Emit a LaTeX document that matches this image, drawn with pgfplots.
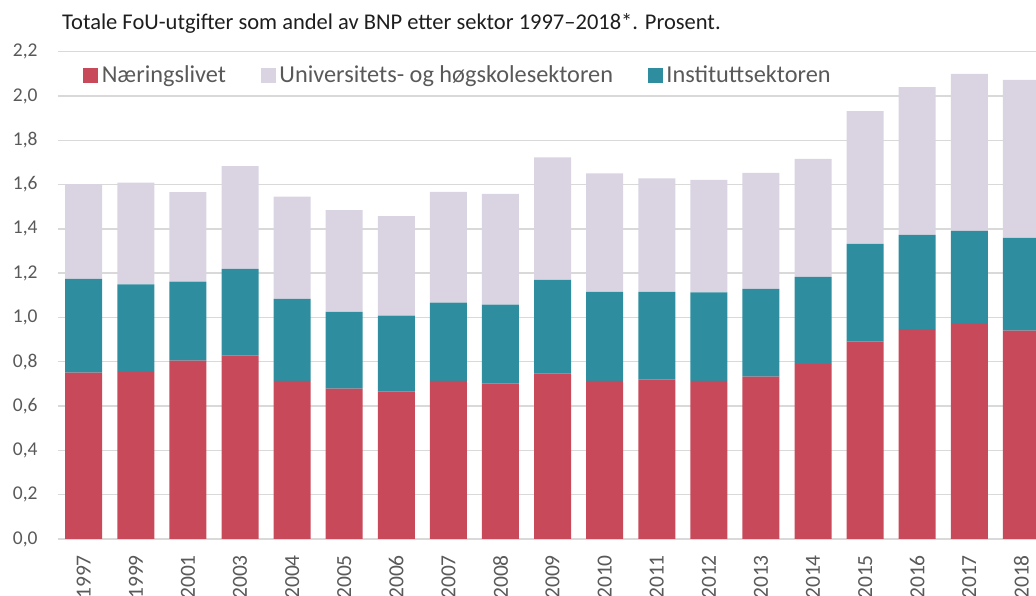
\documentclass[border=0pt]{standalone}
\usepackage{pgfplots}
\pgfplotsset{compat=1.18}
\usepackage{fontspec}
\setmainfont{Carlito}
\definecolor{redc}{RGB}{200,74,90}
\definecolor{tealc}{RGB}{46,141,158}
\definecolor{lavc}{RGB}{218,212,226}
\definecolor{gridc}{RGB}{217,217,217}
\definecolor{tickc}{RGB}{89,89,89}
\definecolor{titlec}{RGB}{30,30,30}
\begin{document}
\begin{tikzpicture}
\useasboundingbox (-57.7pt,-57pt) rectangle (978.3pt,539pt);
\begin{axis}[
  name=ax,
  at={(0,0)}, anchor=south west,
  scale only axis,
  width=978.3pt, height=487.3pt,
  ybar stacked,
  bar width=37pt,
  xmin=-0.5, xmax=18.28,
  ymin=0, ymax=2.2,
  ytick={0,0.2,...,2.21},
  xtick=data,
  xticklabels={1997,1999,2001,2003,2004,2005,2006,2007,2008,2009,2010,2011,2012,2013,2014,2015,2016,2017,2018},
  axis line style={draw=none},
  major tick length=0pt,
  ymajorgrids,
  grid style={gridc, line width=1.4pt},
  /pgf/number format/.cd, fixed, fixed zerofill, precision=1, use comma, assume math mode=true,
  /pgfplots/.cd,
  yticklabel style={font=\fontsize{19.5}{22}\selectfont, color=tickc, inner sep=0pt, anchor=east, xshift=-20pt},
  xticklabel style={font=\fontsize{21.5}{24}\selectfont, color=tickc, inner sep=0pt, yshift=-16pt, rotate=90, anchor=east},
  legend columns=-1,
  legend style={at={(axis cs:-0.5,2.096)}, anchor=west, xshift=25pt, draw=none, fill=none, inner sep=0pt,
    font=\fontsize{24.3}{26}\selectfont, text=tickc,
    nodes={inner xsep=4.5pt, inner ysep=2pt},
    /tikz/every even column/.append style={column sep=30pt}},
  legend cell align=left,
]
\addlegendimage{legend image code/.code={\fill[redc] (0pt,-7pt) rectangle (14pt,7pt);}}
\addlegendentry{Næringslivet}
\addlegendimage{legend image code/.code={\fill[lavc] (0pt,-7pt) rectangle (14pt,7pt);}}
\addlegendentry{Universitets- og høgskolesektoren}
\addlegendimage{legend image code/.code={\fill[tealc] (0pt,-7pt) rectangle (14pt,7pt);}}
\addlegendentry{Instituttsektoren}
\addplot[fill=redc, draw=none, forget plot] coordinates {
(0,0.751) (1,0.754) (2,0.805) (3,0.828) (4,0.714) (5,0.679) (6,0.665) (7,0.714) (8,0.701)
(9,0.748) (10,0.714) (11,0.720) (12,0.714) (13,0.733) (14,0.789) (15,0.891) (16,0.947) (17,0.971) (18,0.941)};
\addplot[fill=tealc, draw=none, forget plot] coordinates {
(0,0.423) (1,0.395) (2,0.357) (3,0.392) (4,0.370) (5,0.346) (6,0.344) (7,0.353) (8,0.357)
(9,0.422) (10,0.402) (11,0.396) (12,0.399) (13,0.396) (14,0.394) (15,0.441) (16,0.426) (17,0.420) (18,0.418)};
\addplot[fill=lavc, draw=none, forget plot] coordinates {
(0,0.428) (1,0.460) (2,0.404) (3,0.463) (4,0.462) (5,0.460) (6,0.449) (7,0.500) (8,0.500)
(9,0.553) (10,0.535) (11,0.512) (12,0.508) (13,0.524) (14,0.533) (15,0.600) (16,0.667) (17,0.709) (18,0.714)};
\end{axis}
\node[anchor=base west, inner sep=0pt, font=\fontsize{22.5}{24}\selectfont, text=titlec] at (4.3pt,509.7pt)
  {Totale FoU-utgifter som andel av BNP etter sektor 1997–2018*. Prosent.};
\end{tikzpicture}
\end{document}
